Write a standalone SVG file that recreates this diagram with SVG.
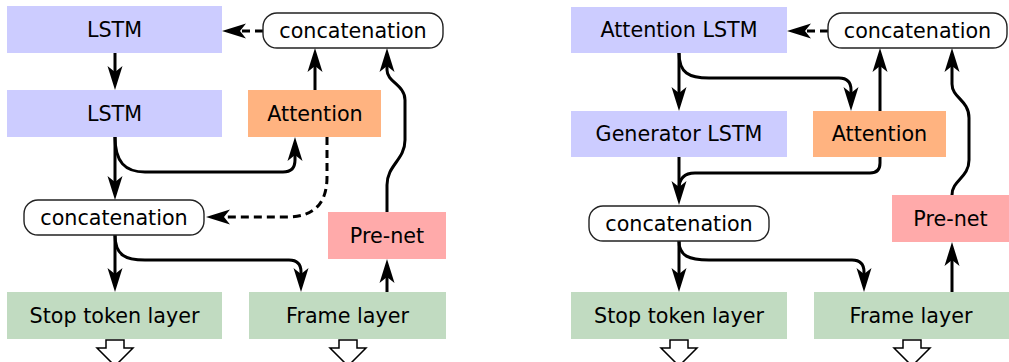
<svg xmlns="http://www.w3.org/2000/svg" width="1009" height="362" viewBox="0 0 1009 362">
<style>
text{font-family:"DejaVu Sans","Liberation Sans",sans-serif;font-size:20.7px;fill:#000;text-anchor:middle}
.lstm{fill:#ccccff}
.att{fill:#ffb380}
.pre{fill:#ffaaaa}
.out{fill:#c1dbc1}
.cat{fill:#fff;stroke:#222;stroke-width:1.4}
.c{fill:none;stroke:#000;stroke-width:3}
.d{stroke-dasharray:8,5}
.ha{fill:#fff;stroke:#000;stroke-width:1.5;stroke-linejoin:miter}
</style>
<defs>
<marker id="ah" markerUnits="userSpaceOnUse" markerWidth="26" markerHeight="18" refX="18" refY="9" orient="auto" overflow="visible">
<path d="M24,9 L0,1.5 L6,9 L0,16.5 Z" fill="#000"/>
</marker>
</defs>

<g id="connectors">
<!-- left panel -->
<path class="c d" d="M263,31 H228" marker-end="url(#ah)"/>
<path class="c" d="M115,53 V84" marker-end="url(#ah)"/>
<path class="c" d="M315,90 V54" marker-end="url(#ah)"/>
<path class="c" d="M387,212 V185 C387,165 405,160 405,140 V100 C405,85 387,82 387,70 V54" marker-end="url(#ah)"/>
<path class="c" d="M115,137 V194" marker-end="url(#ah)"/>
<path class="c" d="M115,137 C115,162 125,172 145,172 H283 Q295,172 295,160 V143" marker-end="url(#ah)"/>
<path class="c d" d="M327,137 V177 Q327,217 287,217 H212" marker-end="url(#ah)"/>
<path class="c" d="M115,235 V286" marker-end="url(#ah)"/>
<path class="c" d="M115,235 C115,255 125,260 145,260 H289 Q301,260 301,272 V286" marker-end="url(#ah)"/>
<path class="c" d="M387,292 V265" marker-end="url(#ah)"/>
<!-- right panel -->
<path class="c d" d="M828,31 H793" marker-end="url(#ah)"/>
<path class="c" d="M679,53 V105" marker-end="url(#ah)"/>
<path class="c" d="M679,53 C679,73 689,78 709,78 H839 Q851,78 851,90 V105" marker-end="url(#ah)"/>
<path class="c" d="M880,111 V54" marker-end="url(#ah)"/>
<path class="c" d="M880,157 V163 Q880,173 870,173 H695 Q679,173 679,189"/>
<path class="c" d="M679,157 V199" marker-end="url(#ah)"/>
<path class="c" d="M679,241 V286" marker-end="url(#ah)"/>
<path class="c" d="M679,241 C679,256 689,260 709,260 H852 Q864,260 864,272 V286" marker-end="url(#ah)"/>
<path class="c" d="M952,292 V248" marker-end="url(#ah)"/>
<path class="c" d="M952,195 C952,180 969,178 969,160 V118 C969,100 952,98 952,84 V54" marker-end="url(#ah)"/>
</g>

<!-- left panel nodes -->
<g id="lstm1"><rect class="lstm" x="7" y="6" width="215" height="47"/><text x="114.5" y="37">LSTM</text></g>
<g id="lstm2"><rect class="lstm" x="7" y="90" width="215" height="47"/><text x="114.5" y="121">LSTM</text></g>
<g id="concat-top-left"><rect class="cat" x="263" y="13" width="180" height="35" rx="14"/><text x="353" y="38">concatenation</text></g>
<g id="attention-left"><rect class="att" x="248" y="90" width="133" height="47"/><text x="315" y="121">Attention</text></g>
<g id="concat-mid-left"><rect class="cat" x="24" y="200" width="180" height="35" rx="14"/><text x="114" y="225">concatenation</text></g>
<g id="prenet-left"><rect class="pre" x="328" y="212" width="118" height="47"/><text x="387" y="243">Pre-net</text></g>
<g id="stop-left"><rect class="out" x="7" y="292" width="215" height="47"/><text x="114.5" y="323">Stop token layer</text></g>
<g id="frame-left"><rect class="out" x="249" y="292" width="197" height="47"/><text x="347.5" y="323">Frame layer</text></g>
<g id="out-stop-left"><path class="ha" d="M106,340 H124 V348 H133 L115,366 L97,348 H106 Z"/></g>
<g id="out-frame-left"><path class="ha" d="M339,340 H357 V348 H366 L348,366 L330,348 H339 Z"/></g>

<!-- right panel nodes -->
<g id="attention-lstm"><rect class="lstm" x="571" y="7" width="216" height="46"/><text x="679" y="37">Attention LSTM</text></g>
<g id="generator-lstm"><rect class="lstm" x="571" y="111" width="216" height="46"/><text x="679" y="141">Generator LSTM</text></g>
<g id="concat-top-right"><rect class="cat" x="828" y="13" width="179" height="35" rx="14"/><text x="917.5" y="38">concatenation</text></g>
<g id="attention-right"><rect class="att" x="813" y="111" width="133" height="46"/><text x="879.5" y="141">Attention</text></g>
<g id="concat-mid-right"><rect class="cat" x="589" y="206" width="180" height="35" rx="14"/><text x="679" y="231">concatenation</text></g>
<g id="prenet-right"><rect class="pre" x="892" y="195" width="118" height="47"/><text x="950.5" y="226">Pre-net</text></g>
<g id="stop-right"><rect class="out" x="571" y="292" width="216" height="47"/><text x="679" y="323">Stop token layer</text></g>
<g id="frame-right"><rect class="out" x="814" y="292" width="197" height="47"/><text x="911" y="323">Frame layer</text></g>
<g id="out-stop-right"><path class="ha" d="M670,340 H688 V348 H697 L679,366 L661,348 H670 Z"/></g>
<g id="out-frame-right"><path class="ha" d="M903,340 H921 V348 H930 L912,366 L894,348 H903 Z"/></g>
</svg>
